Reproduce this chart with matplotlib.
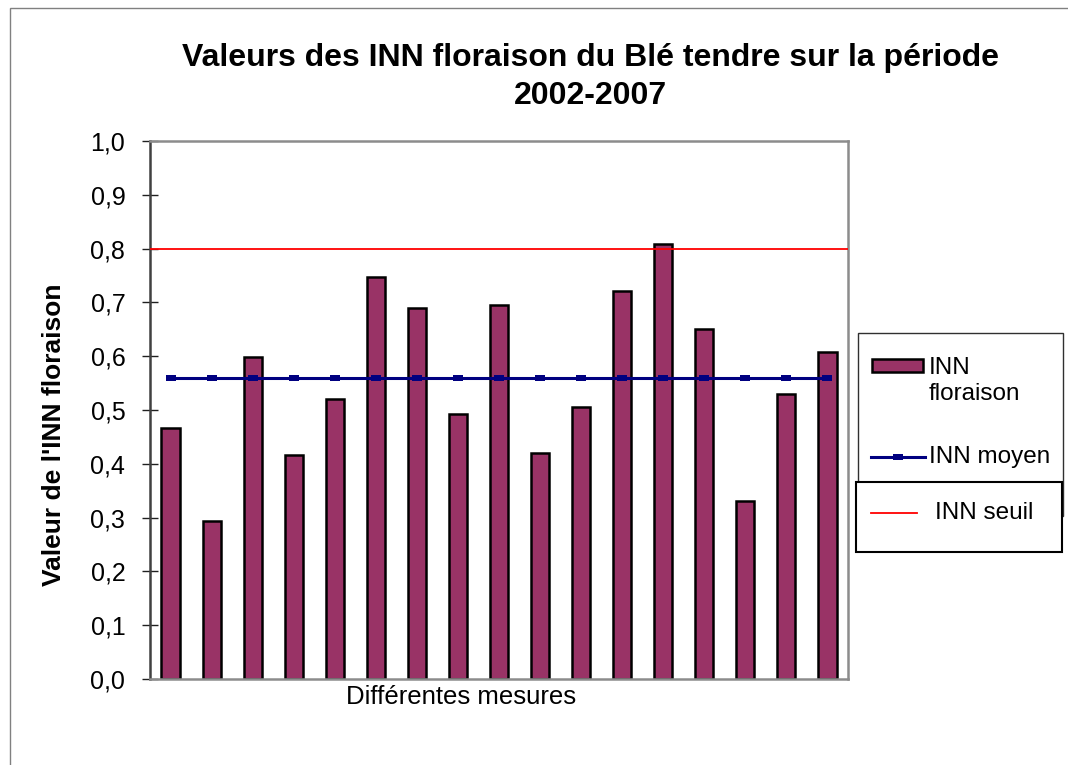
import matplotlib
matplotlib.use("Agg")
import matplotlib.pyplot as plt
from matplotlib.patches import Rectangle
from matplotlib.lines import Line2D

# Taille de l'image en pixels
LARGEUR = 1068
HAUTEUR = 765

# Données
mesures = list(range(1, 18))
inn_floraison = [0.467, 0.294, 0.598, 0.417, 0.520, 0.747, 0.689, 0.493, 0.696,
                 0.421, 0.506, 0.721, 0.809, 0.650, 0.331, 0.530, 0.608]
inn_moyen = [0.56] * 17
inn_seuil = 0.8
graduations = [0.0, 0.1, 0.2, 0.3, 0.4, 0.5, 0.6, 0.7, 0.8, 0.9, 1.0]

COULEUR_BARRE = "#993366"
COULEUR_MOYEN = "#000080"
COULEUR_SEUIL = "#ff0000"

plt.rcParams["font.family"] = ["Liberation Sans", "DejaVu Sans"]


def fx(x):
    return x / LARGEUR


def fy(y):
    return 1 - y / HAUTEUR


fig = plt.figure(figsize=(LARGEUR / 100, HAUTEUR / 100), dpi=100)
fig.patch.set_facecolor("white")

# Cadre gris autour du graphique (coupé à droite et en bas)
fig.add_artist(Rectangle((fx(10), fy(775)), fx(1080) - fx(10), fy(8) - fy(775),
                         transform=fig.transFigure, fill=False,
                         edgecolor="#808080", linewidth=1, zorder=0))

ax = fig.add_axes([fx(150), fy(679), fx(848) - fx(150), fy(141) - fy(679)])

positions = [i for i in range(len(mesures))]
ax.bar(positions, inn_floraison, width=0.44, color=COULEUR_BARRE,
       edgecolor="black", linewidth=1.8, zorder=2)

# petit marqueur rectangulaire, plus large que haut
marqueur = [(-1, -0.6), (1, -0.6), (1, 0.6), (-1, 0.6)]
ax.plot(positions, inn_moyen, color=COULEUR_MOYEN, linewidth=2.2,
        marker=marqueur, markersize=7, markeredgewidth=0, zorder=3)
ax.axhline(inn_seuil, color=COULEUR_SEUIL, linewidth=1.3, zorder=3)

ax.set_xlim(-0.5, len(mesures) - 0.5)
ax.set_ylim(0, 1.0)
ax.set_yticks(graduations)
ax.set_yticklabels(["{:.1f}".format(v).replace(".", ",") for v in graduations],
                   fontsize=18)
ax.set_xticks([])
ax.tick_params(axis="y", direction="inout", length=11.5, width=1,
               color="#202020", pad=12)

for cote in ["top", "right", "bottom"]:
    ax.spines[cote].set_color("#8c8c8c")
    ax.spines[cote].set_linewidth(1.8)
ax.spines["left"].set_color("#404040")
ax.spines["left"].set_linewidth(1.8)

ax.set_xlabel("Différentes mesures", fontsize=18.5, va="center", ha="center")
ax.xaxis.set_label_coords(0.445, -0.0335)
ax.set_ylabel("Valeur de l'INN floraison", fontsize=19, fontweight="bold",
              va="center", ha="center")
ax.yaxis.set_label_coords(-0.1375, 0.4535)

fig.text(fx(590.5), fy(65.7), "Valeurs des INN floraison du Blé tendre sur la période",
         fontsize=23, fontweight="bold", ha="center", va="baseline")
fig.text(fx(590.5), fy(103.5), "2002-2007",
         fontsize=23, fontweight="bold", ha="center", va="baseline")

# Légende dessinée à la main (deux cadres comme l'original)
fig.add_artist(Rectangle((fx(858), fy(516)), fx(1063) - fx(858), fy(333) - fy(516),
                         transform=fig.transFigure, facecolor="white",
                         edgecolor="#303030", linewidth=1, zorder=4))
fig.add_artist(Rectangle((fx(872), fy(372)), fx(923) - fx(872), fy(359) - fy(372),
                         transform=fig.transFigure, facecolor=COULEUR_BARRE,
                         edgecolor="black", linewidth=1.8, zorder=5))
fig.text(fx(929), fy(381), "INN\nfloraison", fontsize=17.5, ha="left",
         va="center", linespacing=1.2, zorder=5)
fig.add_artist(Line2D([fx(871), fx(925)], [fy(457), fy(457)],
                      transform=fig.transFigure, color=COULEUR_MOYEN,
                      linewidth=2.2, zorder=5))
fig.add_artist(Line2D([fx(898)], [fy(457)], transform=fig.transFigure,
                      color=COULEUR_MOYEN, marker=marqueur, markersize=7,
                      markeredgewidth=0, linestyle="none", zorder=5))
fig.text(fx(929), fy(457), "INN moyen", fontsize=17.5, ha="left",
         va="center", zorder=5)

fig.add_artist(Rectangle((fx(856), fy(552)), fx(1062) - fx(856), fy(482) - fy(552),
                         transform=fig.transFigure, facecolor="white",
                         edgecolor="black", linewidth=1.5, zorder=6))
fig.add_artist(Line2D([fx(871), fx(917)], [fy(513), fy(513)],
                      transform=fig.transFigure, color=COULEUR_SEUIL,
                      linewidth=1.3, zorder=7))
fig.text(fx(935), fy(513), "INN seuil", fontsize=17.5, ha="left",
         va="center", zorder=7)

fig.savefig("out.png", dpi=100)
